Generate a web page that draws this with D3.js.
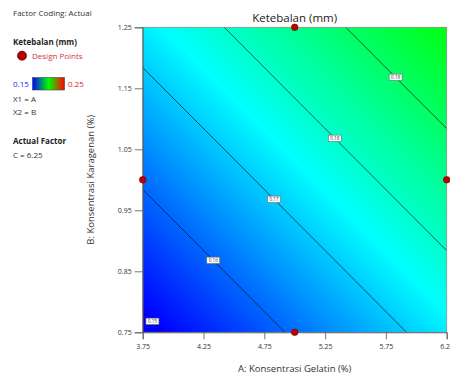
<!DOCTYPE html>
<html>
<head>
<meta charset="utf-8">
<script src="https://cdn.jsdelivr.net/npm/d3@7"></script>
<style>
  body { margin: 0; background: #fff; }
  svg { font-family: "Open Sans", "Noto Sans", sans-serif; }
</style>
</head>
<body>
<div id="chart"></div>
<script>
// values
const xDomain = [3.75, 6.25]
const yDomain = [0.75, 1.25]
const xTicks = [3.75, 4.25, 4.75, 5.25, 5.75, 6.25]
const xTickLabels = ["3.75", "4.25", "4.75", "5.25", "5.75", "6.25"]
const yTicks = [0.75, 0.85, 0.95, 1.05, 1.15, 1.25]
const yTickLabels = ["0.75", "0.85", "0.95", "1.05", "1.15", "1.25"]

// linear model of Ketebalan: b0 + bA*A + bB*B
const modelCoef = [0.0733, 0.01, 0.05]

const contourLevels = [0.15, 0.16, 0.17, 0.18, 0.19]
const contourLabels = ["0.15", "0.16", "0.17", "0.18", "0.19"]
const labelA = [3.83, 4.33, 4.83, 5.33, 5.83]

const designA = [5.0, 5.0, 3.75, 6.25]
const designB = [1.25, 0.75, 1.0, 1.0]

const colorDomain = [0.15, 0.175, 0.2, 0.225, 0.25]
const colorRange = ["#0000ff", "#00ffff", "#00ff00", "#ffff00", "#ff0000"]
const legendStops = ["#0000ff", "#00ff00", "#ff0000"]

const W = 450, H = 380
const margin = {top: 27.3, right: 3.3, bottom: 47.7, left: 142.7}
const width = W - margin.left - margin.right,
      height = H - margin.top - margin.bottom

const svg = d3.select("#chart").append("svg")
    .attr("width", W)
    .attr("height", H)

const x = d3.scaleLinear().domain(xDomain).range([0, width])
const y = d3.scaleLinear().domain(yDomain).range([height, 0])
const color = d3.scaleLinear().domain(colorDomain).range(colorRange).clamp(true)

const model = (a, b) => modelCoef[0] + modelCoef[1] * a + modelCoef[2] * b

// ---- surface colour field, painted on a canvas then put in the svg ----
const cw = Math.round(width), ch = Math.round(height)
const canvas = document.createElement("canvas")
canvas.width = cw
canvas.height = ch
const ctx = canvas.getContext("2d")
const img = ctx.createImageData(cw, ch)
for (let j = 0; j < ch; j++) {
    for (let i = 0; i < cw; i++) {
        const c = d3.rgb(color(model(x.invert(i + 0.5), y.invert(j + 0.5))))
        const k = (j * cw + i) * 4
        img.data[k] = c.r
        img.data[k + 1] = c.g
        img.data[k + 2] = c.b
        img.data[k + 3] = 255
    }
}
ctx.putImageData(img, 0, 0)

const g = svg.append("g")
    .attr("transform", "translate(" + margin.left + "," + margin.top + ")")

g.append("image")
    .attr("x", 0).attr("y", 0)
    .attr("width", width).attr("height", height)
    .attr("preserveAspectRatio", "none")
    .attr("href", canvas.toDataURL())

// ---- contour lines (straight lines for a linear model) ----
const bAt = (lvl, a) => (lvl - modelCoef[0] - modelCoef[1] * a) / modelCoef[2]
const aAt = (lvl, b) => (lvl - modelCoef[0] - modelCoef[2] * b) / modelCoef[1]

const clipLine = (lvl) => {
    let pts = []
    const b0 = bAt(lvl, xDomain[0]), b1 = bAt(lvl, xDomain[1])
    const a0 = aAt(lvl, yDomain[0]), a1 = aAt(lvl, yDomain[1])
    if (b0 >= yDomain[0] && b0 <= yDomain[1]) pts.push([xDomain[0], b0])
    if (a1 >= xDomain[0] && a1 <= xDomain[1]) pts.push([a1, yDomain[1]])
    if (b1 >= yDomain[0] && b1 <= yDomain[1]) pts.push([xDomain[1], b1])
    if (a0 >= xDomain[0] && a0 <= xDomain[1]) pts.push([a0, yDomain[0]])
    return pts.slice(0, 2)
}

g.selectAll(".contour")
    .data(contourLevels)
    .enter()
    .append("path")
        .attr("class", "contour")
        .attr("d", d => d3.line().x(p => x(p[0])).y(p => y(p[1]))(clipLine(d)))
        .attr("fill", "none")
        .attr("stroke", "#111")
        .attr("stroke-opacity", 0.85)
        .attr("stroke-width", 0.8)

const lab = g.selectAll(".clabel")
    .data(contourLevels)
    .enter()
    .append("g")
        .attr("class", "clabel")
        .attr("transform", (d, i) => "translate(" + x(labelA[i]) + "," + y(bAt(d, labelA[i])) + ")")

lab.append("rect")
    .attr("x", -6.5).attr("y", -3.2)
    .attr("width", 13).attr("height", 6.4)
    .attr("fill", "#fff")
    .attr("stroke", "#666")
    .attr("stroke-width", 0.6)

lab.append("text")
    .attr("text-anchor", "middle")
    .attr("dy", "0.35em")
    .style("font-size", "4.6px")
    .style("fill", "#333")
    .text((d, i) => contourLabels[i])

// ---- frame and axes ----
g.append("rect")
    .attr("width", width).attr("height", height)
    .attr("fill", "none")
    .attr("stroke", "#8a8a8a")
    .attr("stroke-width", 0.8)

const xAxis = g.append("g")
    .attr("transform", "translate(0," + height + ")")
    .call(d3.axisBottom(x).tickValues(xTicks).tickSize(7).tickPadding(5)
        .tickFormat((d, i) => xTickLabels[i]))

const yAxis = g.append("g")
    .call(d3.axisLeft(y).tickValues(yTicks).tickSize(8).tickPadding(3)
        .tickFormat((d, i) => yTickLabels[i]))

svg.selectAll(".domain").attr("stroke", "#555").attr("stroke-width", 0.8)
svg.selectAll(".tick line").attr("stroke", "#555").attr("stroke-width", 0.8)
svg.selectAll(".tick text")
    .style("font-family", "'Open Sans', sans-serif")
    .style("font-size", "7px")
    .style("fill", "#333")

// design points
g.selectAll(".dp")
    .data(designA)
    .enter()
    .append("circle")
        .attr("class", "dp")
        .attr("cx", d => x(d))
        .attr("cy", (d, i) => y(designB[i]))
        .attr("r", 3.3)
        .attr("fill", "#c00000")
        .attr("stroke", "#5a0000")
        .attr("stroke-width", 0.6)

// titles
svg.append("text")
    .attr("x", margin.left + width / 2)
    .attr("y", 22)
    .attr("text-anchor", "middle")
    .style("font-size", "11.5px")
    .style("fill", "#222")
    .text("Ketebalan (mm)")

svg.append("text")
    .attr("x", margin.left + width / 2)
    .attr("y", 372)
    .attr("text-anchor", "middle")
    .style("font-size", "9.5px")
    .style("fill", "#333")
    .text("A: Konsentrasi Gelatin (%)")

svg.append("text")
    .attr("transform", "translate(94," + (margin.top + height / 2) + ") rotate(-90)")
    .attr("text-anchor", "middle")
    .style("font-size", "9.5px")
    .style("fill", "#333")
    .text("B: Konsentrasi Karagenan (%)")

// ---- left legend panel ----
const leg = svg.append("g").style("font-size", "8px").style("fill", "#333")

leg.append("text").attr("x", 13).attr("y", 16).text("Factor Coding: Actual")
leg.append("text").attr("x", 13).attr("y", 44.5).style("font-weight", "bold").style("fill", "#222").text("Ketebalan (mm)")
leg.append("circle").attr("cx", 22).attr("cy", 55.7).attr("r", 4.6)
    .attr("fill", "#b00000").attr("stroke", "#600").attr("stroke-width", 0.6)
leg.append("text").attr("x", 32).attr("y", 58.5).style("fill", "#d0343c").text("Design Points")

const grad = svg.append("defs").append("linearGradient").attr("id", "cgrad")
grad.selectAll("stop")
    .data(legendStops)
    .enter()
    .append("stop")
        .attr("offset", (d, i) => (i / (legendStops.length - 1) * 100) + "%")
        .attr("stop-color", d => d)

leg.append("text").attr("x", 13).attr("y", 86.8).style("fill", "#1a1aff").text(d3.format(".2f")(colorDomain[0]))
leg.append("rect").attr("x", 32.5).attr("y", 77.5).attr("width", 32).attr("height", 12.5)
    .attr("fill", "url(#cgrad)").attr("stroke", "#444").attr("stroke-width", 0.6)
leg.append("text").attr("x", 68).attr("y", 86.8).style("fill", "#e02020").text(d3.format(".2f")(colorDomain[4]))

leg.append("text").attr("x", 13).attr("y", 101.8).text("X1 = A")
leg.append("text").attr("x", 13).attr("y", 114.5).text("X2 = B")
leg.append("text").attr("x", 13).attr("y", 143.5).style("font-weight", "bold").style("fill", "#222").text("Actual Factor")
leg.append("text").attr("x", 13).attr("y", 157.8).text("C = 6.25")
</script>
</body>
</html>
